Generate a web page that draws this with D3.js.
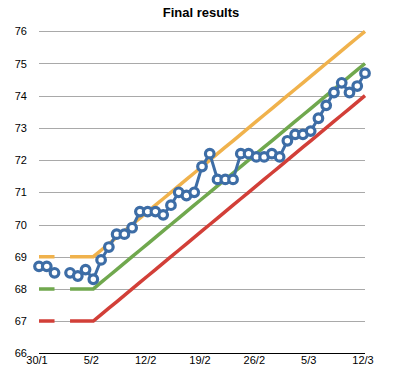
<!DOCTYPE html>
<html>
<head>
<meta charset="utf-8">
<script src="https://cdn.jsdelivr.net/npm/d3@7"></script>
<style>
  html, body { margin: 0; padding: 0; background: #fff; }
  svg { display: block; }
  text { font-family: "Liberation Sans", Arial, Helvetica, sans-serif; fill: #000; }
</style>
</head>
<body>
<svg id="chart" width="397" height="384"></svg>
<script>
// ---- data ----
const title = "Final results";
const xTickLabels = ["30/1", "5/2", "12/2", "19/2", "26/2", "5/3", "12/3"];
const xTickIndex = [0, 7, 14, 21, 28, 35, 42];
const yTicks = [66, 67, 68, 69, 70, 71, 72, 73, 74, 75, 76];

const results = [68.7, 68.7, 68.5, null, 68.5, 68.4, 68.6, 68.3, 68.9, 69.3,
                 69.7, 69.7, 69.9, 70.4, 70.4, 70.4, 70.3, 70.6, 71.0, 70.9,
                 71.0, 71.8, 72.2, 71.4, 71.4, 71.4, 72.2, 72.2, 72.1, 72.1,
                 72.2, 72.1, 72.6, 72.8, 72.8, 72.9, 73.3, 73.7, 74.1, 74.4,
                 74.1, 74.3, 74.7];
const upper = [69, 69, 69, null, 69, 69, 69, 69, 69.2, 69.4,
               69.6, 69.8, 70.0, 70.2, 70.4, 70.6, 70.8, 71.0, 71.2, 71.4,
               71.6, 71.8, 72.0, 72.2, 72.4, 72.6, 72.8, 73.0, 73.2, 73.4,
               73.6, 73.8, 74.0, 74.2, 74.4, 74.6, 74.8, 75.0, 75.2, 75.4,
               75.6, 75.8, 76.0];
const middle = [68, 68, 68, null, 68, 68, 68, 68, 68.2, 68.4,
                68.6, 68.8, 69.0, 69.2, 69.4, 69.6, 69.8, 70.0, 70.2, 70.4,
                70.6, 70.8, 71.0, 71.2, 71.4, 71.6, 71.8, 72.0, 72.2, 72.4,
                72.6, 72.8, 73.0, 73.2, 73.4, 73.6, 73.8, 74.0, 74.2, 74.4,
                74.6, 74.8, 75.0];
const lower = [67, 67, 67, null, 67, 67, 67, 67, 67.2, 67.4,
               67.6, 67.8, 68.0, 68.2, 68.4, 68.6, 68.8, 69.0, 69.2, 69.4,
               69.6, 69.8, 70.0, 70.2, 70.4, 70.6, 70.8, 71.0, 71.2, 71.4,
               71.6, 71.8, 72.0, 72.2, 72.4, 72.6, 72.8, 73.0, 73.2, 73.4,
               73.6, 73.8, 74.0];

// ---- drawing ----
const svg = d3.select("#chart");
const x = d3.scaleLinear().domain([0, 42]).range([39, 365]);
const y = d3.scaleLinear().domain([66, 76]).range([353.3, 31.3]);

svg.append("text")
  .attr("x", 201).attr("y", 17)
  .attr("text-anchor", "middle")
  .style("font-size", "13px").style("font-weight", "bold")
  .text(title);

// gridlines
svg.append("g").selectAll("line").data(yTicks).join("line")
  .attr("x1", x(0)).attr("x2", x(42))
  .attr("y1", d => Math.round(y(d)) + 0.5).attr("y2", d => Math.round(y(d)) + 0.5)
  .attr("stroke", d => d === 66 ? "#000" : "#a9a9a9")
  .attr("stroke-width", 1);

// y labels
svg.append("g").selectAll("text").data(yTicks).join("text")
  .attr("x", 27).attr("y", d => y(d) + 4)
  .attr("text-anchor", "end")
  .style("font-size", "11px")
  .text(d => d);

// x labels
svg.append("g").selectAll("text").data(xTickIndex).join("text")
  .attr("x", d => x(d) - 2).attr("y", 364)
  .attr("text-anchor", "middle")
  .style("font-size", "11px")
  .text((d, i) => xTickLabels[i]);

const line = d3.line()
  .defined(d => d != null)
  .x((d, i) => x(i))
  .y(d => y(d));

[[lower, "#d23f38"], [middle, "#70a84e"], [upper, "#f0b24c"]].forEach(([s, c]) => {
  svg.append("path").datum(s)
    .attr("d", line)
    .attr("fill", "none")
    .attr("stroke", c)
    .attr("stroke-width", 3.5);
});

svg.append("path").datum(results)
  .attr("d", line)
  .attr("fill", "none")
  .attr("stroke", "#3d6da6")
  .attr("stroke-width", 3);

svg.append("g").selectAll("circle")
  .data(results.map((v, i) => ({v, i})).filter(d => d.v != null))
  .join("circle")
  .attr("cx", d => x(d.i)).attr("cy", d => y(d.v))
  .attr("r", 4.3)
  .attr("fill", "#fff")
  .attr("stroke", "#3d6da6")
  .attr("stroke-width", 3.2);
</script>
</body>
</html>
